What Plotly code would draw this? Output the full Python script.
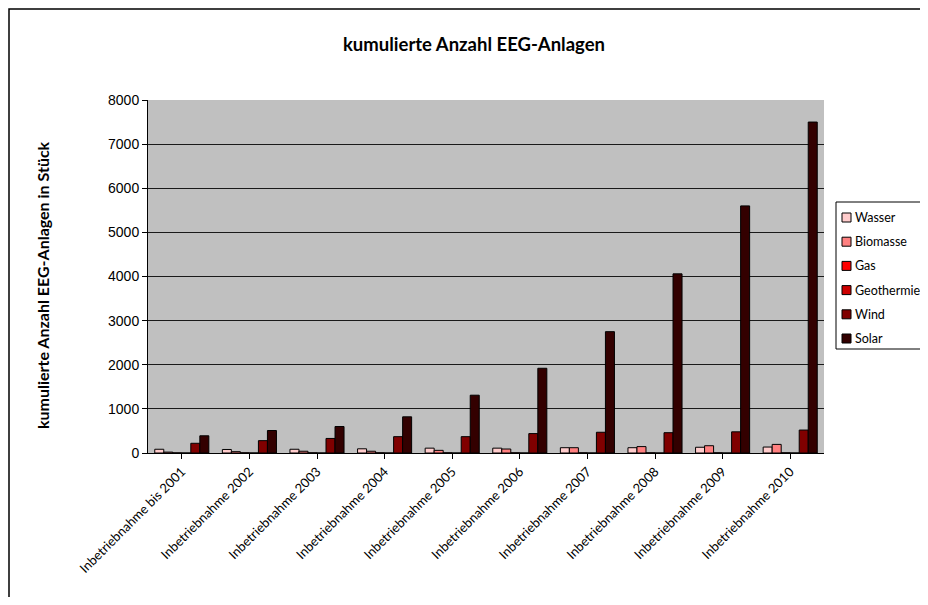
import plotly.graph_objects as go

categories = [
    "Inbetriebnahme bis 2001", "Inbetriebnahme 2002", "Inbetriebnahme 2003",
    "Inbetriebnahme 2004", "Inbetriebnahme 2005", "Inbetriebnahme 2006",
    "Inbetriebnahme 2007", "Inbetriebnahme 2008", "Inbetriebnahme 2009",
    "Inbetriebnahme 2010",
]
wasser = [85, 80, 85, 95, 110, 110, 120, 120, 130, 135]
biomasse = [20, 30, 40, 40, 60, 90, 120, 145, 165, 195]
gas = [3, 5, 5, 5, 5, 5, 5, 5, 5, 5]
geothermie = [0, 0, 0, 0, 0, 0, 0, 0, 0, 0]
wind = [220, 280, 330, 370, 370, 440, 470, 460, 480, 520]
solar = [390, 510, 600, 820, 1310, 1920, 2750, 4060, 5600, 7500]

series = [
    ("Wasser", wasser, "#FFCCCC"),
    ("Biomasse", biomasse, "#FF8080"),
    ("Gas", gas, "#FF0000"),
    ("Geothermie", geothermie, "#CC0000"),
    ("Wind", wind, "#800000"),
    ("Solar", solar, "#330000"),
]

fig = go.Figure()
for name, vals, color in series:
    fig.add_trace(go.Bar(
        x=categories, y=vals, name=name, showlegend=False,
        marker=dict(color=color, line=dict(color="#000000", width=1)),
    ))

# the page body adds an 8px margin all round, so keep the figure inside it
W, H = 912, 589
L, R, T, B = 140, 96, 92, 144
pw, ph = W - L - R, H - T - B


def px(x):
    # figure pixel -> paper x
    return (x - L) / pw


def py(y):
    # figure pixel (from top) -> paper y
    return (T + ph - y) / ph


fig.update_layout(
    width=W, height=H,
    barmode="group", bargap=0.2, bargroupgap=0,
    margin=dict(l=L, r=R, t=T, b=B, autoexpand=False),
    paper_bgcolor="#FFFFFF", plot_bgcolor="#C0C0C0",
    font=dict(family="Lato, Liberation Sans, sans-serif", size=12, color="#000000"),
    title=dict(text="<b>kumulierte Anzahl EEG-Anlagen</b>", x=466 / W, xanchor="center",
               y=1 - 37 / H, yanchor="middle", font=dict(size=18.5)),
)
fig.update_xaxes(
    tickangle=-45, showline=True, linecolor="#000000", linewidth=1,
    ticks="outside", ticklen=5, tickcolor="#000000",
    tickfont=dict(family="Lato, sans-serif", size=13),
    showgrid=False,
)
fig.update_yaxes(
    range=[0, 8000], dtick=1000, showgrid=True, gridcolor="#1A1A1A", gridwidth=1,
    showline=True, linecolor="#000000", linewidth=1, ticks="outside", ticklen=5,
    tickcolor="#000000", zeroline=False,
    tickfont=dict(family="Liberation Sans, Arial, sans-serif", size=14),
)

# y axis title as an annotation so it can sit a little below the plot centre
fig.add_annotation(text="<b>kumulierte Anzahl EEG-Anlagen in Stück</b>",
                   xref="paper", yref="paper", x=px(34), y=py(277),
                   textangle=-90, showarrow=False, font=dict(size=16),
                   xanchor="center", yanchor="middle")

# outer chart border (runs off the right and bottom of the page)
fig.add_shape(type="rect", xref="paper", yref="paper",
              x0=px(1), x1=1.3, y0=-0.6, y1=py(1),
              line=dict(color="#000000", width=1.5), fillcolor="rgba(0,0,0,0)")

# legend box, drawn by hand so the text sits close to the swatches
fig.add_shape(type="rect", xref="paper", yref="paper",
              x0=px(828), x1=1.3, y0=py(341), y1=py(194),
              line=dict(color="#000000", width=1), fillcolor="#FFFFFF")
for i, (name, vals, color) in enumerate(series):
    yc = 209.5 + i * 24.2
    fig.add_shape(type="rect", xref="paper", yref="paper",
                  x0=px(834), x1=px(843), y0=py(yc + 4.5), y1=py(yc - 4.5),
                  line=dict(color="#000000", width=1), fillcolor=color)
    fig.add_annotation(text=name, xref="paper", yref="paper",
                       x=px(845), y=py(yc), xanchor="left", yanchor="middle",
                       showarrow=False, font=dict(size=12.5))

fig.write_html("out.html")
